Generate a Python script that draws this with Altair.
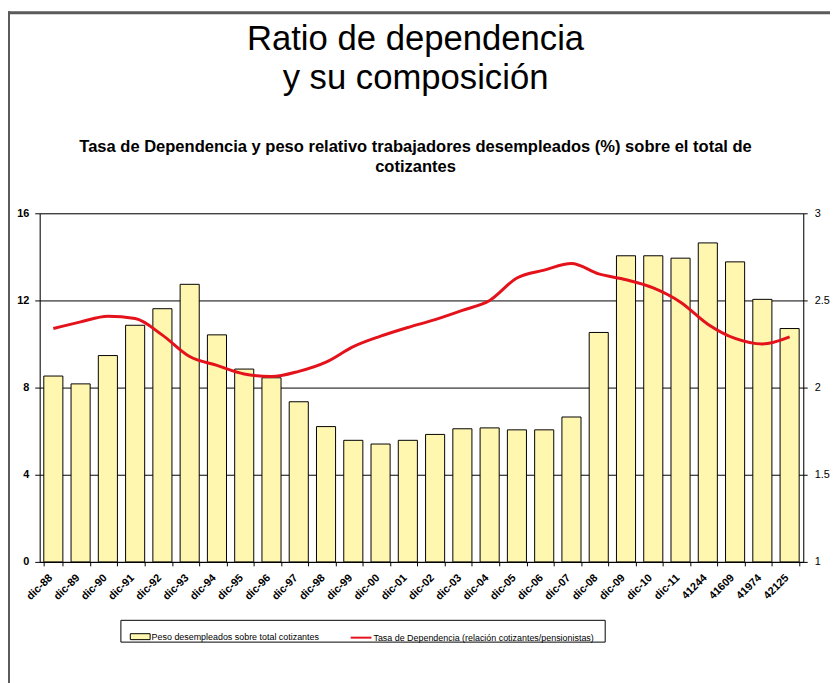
import altair as alt
import pandas as pd

categorias = ["dic-88", "dic-89", "dic-90", "dic-91", "dic-92", "dic-93", "dic-94",
              "dic-95", "dic-96", "dic-97", "dic-98", "dic-99", "dic-00", "dic-01",
              "dic-02", "dic-03", "dic-04", "dic-05", "dic-06", "dic-07", "dic-08",
              "dic-09", "dic-10", "dic-11", "41244", "41609", "41974", "42125"]

peso_desempleados = [8.53, 8.17, 9.47, 10.86, 11.62, 12.74, 10.42, 8.85, 8.45, 7.35,
                     6.21, 5.58, 5.41, 5.58, 5.85, 6.11, 6.15, 6.06, 6.06, 6.65,
                     10.53, 14.05, 14.05, 13.94, 14.64, 13.77, 12.05, 10.71]

tasa_dependencia = [2.339, 2.377, 2.409, 2.396, 2.301, 2.178, 2.127, 2.078, 2.063, 2.093,
                    2.146, 2.235, 2.295, 2.345, 2.390, 2.443, 2.500, 2.629, 2.674, 2.712,
                    2.652, 2.619, 2.572, 2.490, 2.364, 2.282, 2.250, 2.291]

serie_barras = "Peso desempleados sobre total cotizantes"
serie_linea = "Tasa de Dependencia (relación cotizantes/pensionistas)"

df_barras = pd.DataFrame({"cat": categorias, "valor": peso_desempleados, "serie": serie_barras})
df_linea = pd.DataFrame({"cat": categorias, "valor": tasa_dependencia, "serie": serie_linea})

FONT = "Liberation Sans"
AMARILLO = "#FFF6B0"
ROJO = "#E3121B"

x_enc = alt.X(
    "cat:N", sort=categorias, title=None,
    scale=alt.Scale(paddingInner=0.3, paddingOuter=0.15),
    axis=alt.Axis(labelAngle=-45, labelAlign="right", labelBaseline="middle",
                  labelFont=FONT, labelFontWeight="bold", labelFontSize=11,
                  labelColor="black", labelPadding=10, labelOffset=-3,
                  tickBand="extent", tickSize=4, tickColor="black",
                  domainColor="black", labelOverlap=False, grid=False),
)

barras = alt.Chart(df_barras).mark_bar(stroke="black", strokeWidth=1, opacity=1).encode(
    x=x_enc,
    y=alt.Y("valor:Q", title=None,
            scale=alt.Scale(domain=[0, 16], nice=False),
            axis=alt.Axis(values=[0, 4, 8, 12, 16], grid=True, gridColor="black",
                          gridWidth=1, gridOpacity=1, domainColor="black",
                          tickColor="black", tickSize=5, labelPadding=6,
                          labelFont=FONT, labelFontWeight="bold", labelFontSize=11,
                          labelColor="black")),
    fill=alt.Fill("serie:N",
                  scale=alt.Scale(domain=[serie_barras], range=[AMARILLO]),
                  legend=alt.Legend(title=None, orient="none", legendX=91, legendY=417,
                                    padding=0, symbolType="M-1,-0.3H1V0.3H-1Z",
                                    symbolSize=400, symbolStrokeColor="black",
                                    symbolStrokeWidth=1, symbolOpacity=1,
                                    labelFont=FONT, labelFontSize=9, labelColor="black",
                                    labelOffset=1, labelLimit=400)),
)

linea = alt.Chart(df_linea).mark_line(strokeWidth=3, interpolate="monotone").encode(
    x=x_enc,
    y=alt.Y("valor:Q", title=None,
            scale=alt.Scale(domain=[1, 3], nice=False, zero=False),
            axis=alt.Axis(orient="right", values=[1, 1.5, 2, 2.5, 3], grid=False,
                          domainColor="black", tickColor="black", tickSize=4,
                          labelPadding=7, labelFont=FONT, labelFontSize=11,
                          labelColor="black", format="~g")),
    stroke=alt.Stroke("serie:N",
                      scale=alt.Scale(domain=[serie_linea], range=[ROJO]),
                      legend=alt.Legend(title=None, orient="none", legendX=313, legendY=417,
                                        padding=0, symbolType="M-1,0H1", symbolSize=441,
                                        symbolStrokeWidth=2, symbolOpacity=1,
                                        labelFont=FONT, labelFontSize=9, labelColor="black",
                                        labelOffset=1, labelLimit=400)),
)

caja_leyenda = alt.Chart(alt.Data(values=[{"a": 1}])).mark_rect(
    fill="white", stroke="black", strokeWidth=1
).encode(x=alt.value(82), x2=alt.value(571), y=alt.value(411), y2=alt.value(433))

marco = alt.Chart(alt.Data(values=[{"a": 1}])).mark_rule(color="#5a5a5a", strokeWidth=3).encode(
    x=alt.value(-31.5), y=alt.value(-204), y2=alt.value(480)
)
marco_sup = alt.Chart(alt.Data(values=[{"a": 1}])).mark_rule(color="#5a5a5a", strokeWidth=3).encode(
    x=alt.value(-32), x2=alt.value(800), y=alt.value(-202.5)
)

chart = alt.layer(caja_leyenda, barras, linea, marco, marco_sup).resolve_scale(
    y="independent"
).properties(
    width=771, height=352,
    autosize=alt.AutoSizeParams(type="none"),
    padding={"left": 32, "top": 204, "right": 27, "bottom": 119},
    title=alt.TitleParams(
        text=["Ratio de dependencia", "y su composición"],
        subtitle=["Tasa de Dependencia y peso relativo trabajadores desempleados (%) sobre el total de",
                  "cotizantes"],
        font=FONT, fontSize=35, fontWeight="normal", lineHeight=40, color="black",
        subtitleFont=FONT, subtitleFontSize=16.7, subtitleFontWeight="bold",
        subtitleLineHeight=21, subtitleColor="black", subtitlePadding=43,
        anchor="middle", offset=-168, dx=-6,
    ),
).configure_view(stroke=None).configure(background="white")

chart.save("out.html", embed_options={"renderer": "svg", "actions": False})
